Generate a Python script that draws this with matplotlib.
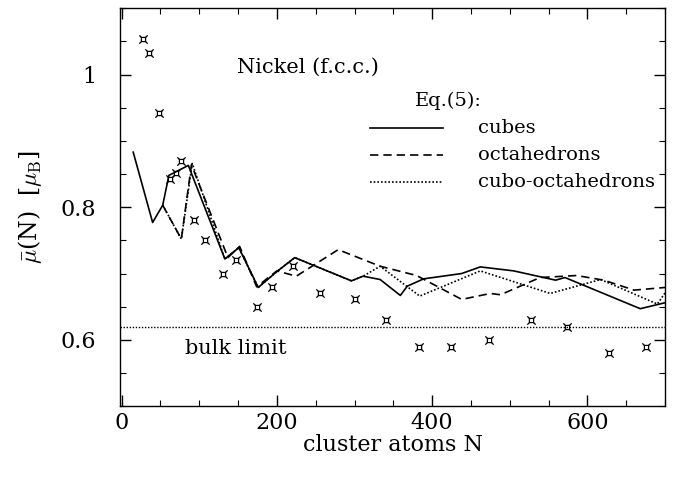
import matplotlib
matplotlib.use("Agg")
import matplotlib.pyplot as plt
from matplotlib.ticker import MultipleLocator, FixedLocator, FixedFormatter
from matplotlib.lines import Line2D
from matplotlib.path import Path

plt.rcParams['font.family'] = ['DejaVu Serif']
plt.rcParams['mathtext.fontset'] = 'cm'

# experimental data (markers)
exp_N = [27, 35, 48, 62, 70, 76, 93, 108, 130, 148, 174, 194, 221, 255, 301,
         341, 383, 424, 473, 527, 574, 628, 676]
exp_mu = [1.054, 1.033, 0.942, 0.842, 0.851, 0.870, 0.781, 0.751, 0.700, 0.721,
          0.650, 0.680, 0.711, 0.671, 0.661, 0.630, 0.590, 0.590, 0.600, 0.630,
          0.620, 0.580, 0.590]

cubes_N = [15, 40, 53, 61, 86, 133, 151, 176, 199, 223, 296, 311, 333, 359, 368,
           389, 438, 462, 505, 559, 571, 668, 700]
cubes_mu = [0.883, 0.777, 0.803, 0.848, 0.863, 0.722, 0.739, 0.679, 0.702, 0.724,
            0.689, 0.696, 0.691, 0.667, 0.681, 0.692, 0.700, 0.710, 0.704, 0.690,
            0.694, 0.647, 0.656]

octa_N = [53, 77, 90, 137, 152, 174, 200, 225, 279, 333, 380, 438, 475, 488, 539,
          586, 621, 660, 700]
octa_mu = [0.803, 0.752, 0.864, 0.724, 0.741, 0.680, 0.704, 0.696, 0.736, 0.711,
           0.697, 0.661, 0.670, 0.668, 0.694, 0.697, 0.690, 0.675, 0.679]

cubo_N = [53, 77, 91, 133, 151, 176, 199, 223, 296, 311, 333, 384, 462, 552, 617,
          690, 700]
cubo_mu = [0.803, 0.752, 0.866, 0.722, 0.739, 0.679, 0.702, 0.724, 0.689, 0.696,
           0.711, 0.666, 0.704, 0.670, 0.691, 0.654, 0.671]

bulk_limit = 0.62

# marker: small square with short diagonal spurs at the corners (like ¤)
verts = [(-0.45, -0.45), (0.45, -0.45), (0.45, 0.45), (-0.45, 0.45), (-0.45, -0.45),
         (-0.45, -0.45), (-0.9, -0.9),
         (0.45, -0.45), (0.9, -0.9),
         (0.45, 0.45), (0.9, 0.9),
         (-0.45, 0.45), (-0.9, 0.9)]
codes = [Path.MOVETO, Path.LINETO, Path.LINETO, Path.LINETO, Path.LINETO,
         Path.MOVETO, Path.LINETO,
         Path.MOVETO, Path.LINETO,
         Path.MOVETO, Path.LINETO,
         Path.MOVETO, Path.LINETO]
cur_marker = Path(verts, codes)

fig = plt.figure(figsize=(6.78, 4.83), dpi=100)
ax = fig.add_axes([0.177, 0.159, 0.804, 0.824])

lw = 1.2
ax.plot(cubes_N, cubes_mu, color='black', lw=lw, ls='-')
ax.plot(octa_N, octa_mu, color='black', lw=lw, ls=(0, (5, 3)))
ax.plot(cubo_N, cubo_mu, color='black', lw=lw, ls=(0, (1, 1.2)))
ax.axhline(bulk_limit, color='black', lw=1.0, ls=(0, (1, 1.2)))
ax.plot(exp_N, exp_mu, ls='none', marker=cur_marker, markersize=6,
        markerfacecolor='none', markeredgecolor='black', markeredgewidth=0.9)

ax.set_xlim(-2, 700)
ax.set_ylim(0.5, 1.1)
ax.xaxis.set_major_locator(FixedLocator([0, 200, 400, 600]))
ax.xaxis.set_minor_locator(MultipleLocator(50))
ax.yaxis.set_major_locator(FixedLocator([0.6, 0.8, 1.0]))
ax.yaxis.set_major_formatter(FixedFormatter(['0.6', '0.8', '1']))
ax.yaxis.set_minor_locator(MultipleLocator(0.05))
ax.tick_params(which='both', direction='in', top=True, right=True, labelsize=16)
ax.tick_params(which='major', length=8, width=1.0)
ax.tick_params(which='minor', length=4, width=0.8)
ax.tick_params(axis='x', which='major', pad=4)
ax.tick_params(axis='y', which='major', pad=17)
for s in ax.spines.values():
    s.set_linewidth(1.0)

ax.set_xlabel('cluster atoms N', fontsize=16, labelpad=0)
ax.set_ylabel(r'$\bar{\mu}$(N)  [$\mu_{\rm B}$]', fontsize=17, labelpad=12)

ax.text(0.215, 0.852, 'Nickel (f.c.c.)', transform=ax.transAxes, fontsize=15,
        va='center', ha='left')
ax.text(0.119, 0.146, 'bulk limit', transform=ax.transAxes, fontsize=15,
        va='center', ha='left')
ax.text(0.541, 0.766, 'Eq.(5):', transform=ax.transAxes, fontsize=14,
        va='center', ha='left')

legend_items = [('cubes', '-'), ('octahedrons', (0, (5, 3))),
                ('cubo-octahedrons', (0, (1, 1.2)))]
ys = [0.698, 0.631, 0.563]
for (lab, st), yy in zip(legend_items, ys):
    ax.add_line(Line2D([0.459, 0.593], [yy, yy], transform=ax.transAxes,
                       color='black', lw=lw, ls=st))
    ax.text(0.657, yy, lab, transform=ax.transAxes, fontsize=14,
            va='center', ha='left')

fig.savefig('out.png', dpi=100)
